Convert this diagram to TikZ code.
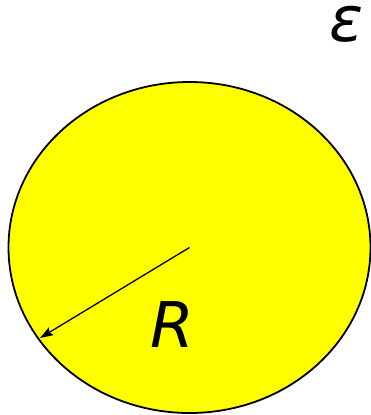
\documentclass[tikz,border=0pt]{standalone}
\usepackage{fontspec}
\setmainfont{DejaVu Sans}
\usetikzlibrary{arrows.meta}
\definecolor{sunyellow}{RGB}{255,255,0}

\begin{document}
\begin{tikzpicture}[x=1pt, y=-1pt, line width=1.8pt]

  \useasboundingbox (0,0) rectangle (371,415);

  %% ---- sphere ----
  \coordinate (center) at (189.5,247.5);
  \draw[fill=sunyellow] (center) ellipse [x radius=181, y radius=165.5];

  %% radius
  \coordinate (rim) at (40,338);
  \draw[line width=1.3pt, -{Stealth[length=13pt, width=9pt, inset=2pt]}] (center) -- (rim);

  %% labels
  \node[font=\fontsize{63}{63}\selectfont\itshape, inner sep=0pt] (rlabel) at (172.5,325) {R};
  \node[font=\fontsize{63}{63}\selectfont\itshape, inner sep=0pt] (epslabel) at (347,24) {ε};

\end{tikzpicture}
\end{document}
